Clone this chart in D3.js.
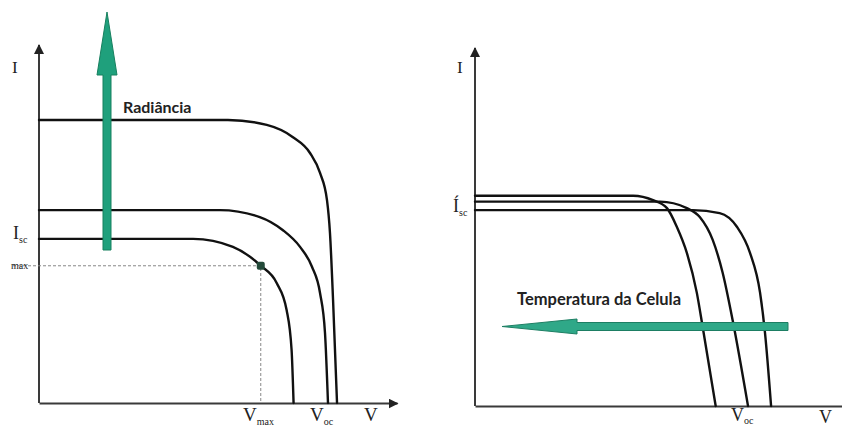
<!DOCTYPE html>
<meta charset="utf-8">
<title>Curvas I-V</title>
<style>
    body { margin: 0; background: #fff; }
    .axis .domain { stroke: #3a3a3a; stroke-width: 2; }
    .curve { fill: none; stroke: #111; stroke-width: 2.4; stroke-linecap: round; }
    .guide { fill: none; stroke: #888; stroke-width: 1; stroke-dasharray: 3,2; }
    .lbl { font-family: "Liberation Serif", "DejaVu Serif", serif; fill: #222; }
    .note { font-family: Lato, "Open Sans", sans-serif; font-weight: bold; fill: #222; }
</style>
<body>
<svg id="chart" width="842" height="429"></svg>
</body>
<script src="https://cdn.jsdelivr.net/npm/d3@7/dist/d3.min.js"></script>
<script>
    // left panel: I-V curves for increasing irradiance (V, I in arbitrary units)
    var radV1 = [0, 15.5, 19.5, 22.3, 23.9, 24.9, 25.4, 25.6];
    var radI1 = [16.5, 16.5, 15.7, 13.8, 12.07, 9.35, 5.33, 0];
    var radV2 = [0, 18.2, 22.2, 24.5, 26.25, 27.45, 28.26, 28.76, 29.06];
    var radI2 = [19.4, 19.4, 18.7, 17.4, 15.7, 13.7, 11.06, 7.04, 0];
    var radV3 = [0, 19.0, 22.9, 25.5, 27.25, 28.26, 28.96, 29.26, 29.57, 29.97];
    var radI3 = [28.46, 28.46, 27.96, 26.75, 25.14, 23.13, 20.4, 17.1, 10.36, 0];
    var maxPoint = [22.3, 13.8];

    // right panel: I-V curves for different cell temperatures
    var tempV1 = [0, 15.9, 17.9, 19.3, 20.3, 21.3, 22.3, 22.9, 24.2];
    var tempI1 = [21.15, 21.15, 20.7, 19.9, 18.0, 15.4, 11.4, 7.9, 0];
    var tempV2 = [0, 18.6, 21.3, 22.6, 23.9, 24.9, 25.9, 27.45];
    var tempI2 = [20.55, 20.55, 19.9, 19.0, 16.7, 13.4, 8.65, 0];
    var tempV3 = [0, 21.9, 24.6, 26.35, 27.65, 28.66, 29.16, 29.77];
    var tempI3 = [19.7, 19.7, 19.4, 18.0, 15.4, 11.4, 7.34, 0];

    var svg = d3.select("#chart");

    var defs = svg.append("defs");
    defs.append("marker")
        .attr("id", "tip")
        .attr("viewBox", "0 0 10 10")
        .attr("refX", 9).attr("refY", 5)
        .attr("markerWidth", 5).attr("markerHeight", 5)
        .attr("markerUnits", "strokeWidth")
        .attr("orient", "auto")
        .append("path")
        .attr("d", "M0,0L10,5L0,10z")
        .attr("fill", "#222");

    function zip(vs, is) {
        return vs.map(function(v, i) { return [v, is[i]]; });
    }

    function panel(opt) {
        var x = d3.scaleLinear().domain(opt.xDomain).range(opt.xRange);
        var y = d3.scaleLinear().domain(opt.yDomain).range(opt.yRange);
        var g = svg.append("g");

        g.append("g")
            .attr("class", "axis")
            .attr("transform", "translate(0," + opt.yRange[0] + ")")
            .call(d3.axisBottom(x).tickValues([]).tickSizeOuter(0))
            .select(".domain").attr("marker-end", opt.xArrow ? "url(#tip)" : null);
        g.append("g")
            .attr("class", "axis")
            .attr("transform", "translate(" + opt.xRange[0] + ",0)")
            .call(d3.axisLeft(y).tickValues([]).tickSizeOuter(0))
            .select(".domain")
            .attr("d", "M0," + opt.yRange[0] + "V" + opt.yRange[1])
            .attr("marker-end", "url(#tip)");

        var line = d3.line()
            .x(function(d) { return x(d[0]); })
            .y(function(d) { return y(d[1]); })
            .curve(d3.curveMonotoneX);

        opt.series.forEach(function(s) {
            g.append("path").attr("class", "curve").attr("d", line(s));
        });
        return { g: g, x: x, y: y };
    }

    // ---- left ----
    var L = panel({
        xDomain: [0, 36], xRange: [39, 397],
        yDomain: [0, 36], yRange: [403, 45],
        xArrow: true,
        series: [zip(radV1, radI1), zip(radV2, radI2), zip(radV3, radI3)]
    });

    L.g.append("path").attr("class", "guide")
        .attr("d", "M13," + L.y(maxPoint[1]) + "H" + L.x(maxPoint[0]) + "V" + L.y(0));
    L.g.append("rect")
        .attr("x", L.x(maxPoint[0]) - 4).attr("y", L.y(maxPoint[1]) - 4)
        .attr("width", 8).attr("height", 8).attr("rx", 2)
        .attr("fill", "#234a3a");

    // green arrow (radiance)
    L.g.append("path")
        .attr("d", "M103,250V75H97L107,12L117,75H111V250Z")
        .attr("fill", "#1fa07c").attr("stroke", "#17805f").attr("stroke-width", 1);
    L.g.append("text").attr("class", "note").attr("x", 123).attr("y", 113)
        .attr("font-size", 16).text("Radiância");

    L.g.append("text").attr("class", "lbl").attr("x", 12).attr("y", 73).attr("font-size", 17).text("I");
    var isc = L.g.append("text").attr("class", "lbl").attr("x", 13).attr("y", 239).attr("font-size", 18);
    isc.append("tspan").text("I");
    isc.append("tspan").attr("font-size", 10).attr("dy", 4).text("sc");
    L.g.append("text").attr("class", "lbl").attr("x", 11).attr("y", 269).attr("font-size", 10)
        .text("max");

    var vmax = L.g.append("text").attr("class", "lbl").attr("x", 243).attr("y", 421).attr("font-size", 19);
    vmax.append("tspan").text("V");
    vmax.append("tspan").attr("font-size", 10).attr("dy", 4).text("max");
    var voc = L.g.append("text").attr("class", "lbl").attr("x", 310).attr("y", 421).attr("font-size", 19);
    voc.append("tspan").text("V");
    voc.append("tspan").attr("font-size", 10).attr("dy", 4).text("oc");
    L.g.append("text").attr("class", "lbl").attr("x", 364).attr("y", 421).attr("font-size", 19).text("V");

    // ---- right ----
    var R = panel({
        xDomain: [0, 37], xRange: [475, 843],
        yDomain: [0, 36], yRange: [406, 48],
        xArrow: false,
        series: [zip(tempV1, tempI1), zip(tempV2, tempI2), zip(tempV3, tempI3)]
    });

    // green arrow (temperature)
    R.g.append("path")
        .attr("d", "M788,322.5H577V319L502,326.5L577,334V330.5H788Z")
        .attr("fill", "#2fa888").attr("stroke", "#1d7e63").attr("stroke-width", 1);
    R.g.append("text").attr("class", "note").attr("x", 517).attr("y", 305)
        .attr("font-size", 16.5).text("Temperatura da Celula");

    R.g.append("text").attr("class", "lbl").attr("x", 457).attr("y", 73).attr("font-size", 17).text("I");
    var isc2 = R.g.append("text").attr("class", "lbl").attr("x", 453).attr("y", 212).attr("font-size", 18);
    isc2.append("tspan").text("Í");
    isc2.append("tspan").attr("font-size", 10).attr("dy", 4).text("sc");
    var voc2 = R.g.append("text").attr("class", "lbl").attr("x", 731).attr("y", 421).attr("font-size", 18);
    voc2.append("tspan").text("V");
    voc2.append("tspan").attr("font-size", 10).attr("dy", 3).text("oc");
    R.g.append("text").attr("class", "lbl").attr("x", 819).attr("y", 423).attr("font-size", 18).text("V");
</script>
